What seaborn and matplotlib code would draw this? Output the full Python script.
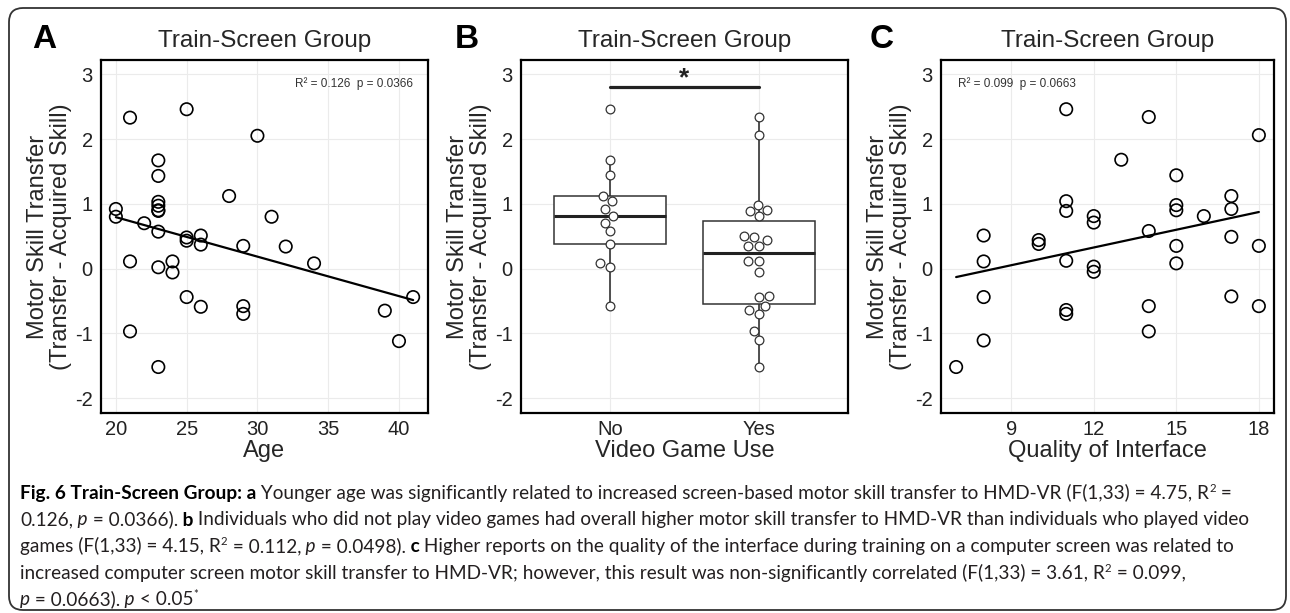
import numpy as np
import pandas as pd
import seaborn as sns
import matplotlib.pyplot as plt
from matplotlib.patches import FancyBboxPatch

# panel A: age vs transfer
age = [20, 20, 21, 21, 21, 22, 23, 23, 23, 23, 23, 23, 23, 23, 23, 24, 24,
       25, 25, 25, 25, 26, 26, 26, 28, 29, 29, 29, 30, 31, 32, 34, 39, 40, 41]
transfer_a = [0.92, 0.80, 2.33, 0.11, -0.97, 0.70, 1.67, 1.43, 1.03, 0.97, 0.89, 0.90,
              0.57, 0.02, -1.52, 0.11, -0.06, 2.46, 0.48, 0.43, -0.44, 0.51, 0.37,
              -0.59, 1.12, 0.35, -0.58, -0.70, 2.05, 0.80, 0.34, 0.08, -0.65, -1.12, -0.44]

# panel B: video game use
transfer_no = [2.46, 1.68, 1.44, 1.12, 1.04, 0.92, 0.81, 0.71, 0.58, 0.38, 0.08, 0.03, -0.58]
transfer_yes = [2.34, 2.06, 0.98, 0.90, 0.89, 0.81, 0.51, 0.49, 0.44, 0.35, 0.35, 0.12,
                0.11, -0.05, -0.43, -0.44, -0.58, -0.64, -0.70, -0.97, -1.11, -1.52]

# panel C: quality of interface
quality = [7, 8, 8, 8, 8, 10, 10, 11, 11, 11, 11, 11, 11, 12, 12, 12, 12, 13, 14, 14, 14,
           14, 15, 15, 15, 15, 15, 16, 17, 17, 17, 17, 18, 18, 18]
transfer_c = [-1.52, 0.51, 0.11, -0.44, -1.11, 0.44, 0.38, 2.46, 1.04, 0.89, 0.12, -0.64,
              -0.70, 0.81, 0.71, 0.03, -0.05, 1.68, 2.34, 0.58, -0.58, -0.97, 1.44, 0.98,
              0.90, 0.35, 0.08, 0.81, 1.12, 0.92, 0.49, -0.43, 2.06, 0.35, -0.58]

stat_a = 'R² = 0.126  p = 0.0366'
stat_c = 'R² = 0.099  p = 0.0663'

W, H = 1290, 613
sns.set_style('white')
plt.rcParams['font.family'] = ['Liberation Sans', 'DejaVu Sans']
plt.rcParams['axes.unicode_minus'] = False

fig = plt.figure(figsize=(W / 100, H / 100), dpi=100)

# rounded frame around the whole figure
bg = fig.add_axes([0, 0, 1, 1], zorder=-10)
bg.set_xlim(0, W)
bg.set_ylim(H, 0)
bg.axis('off')
bg.add_patch(FancyBboxPatch((9, 8), 1277, 602, boxstyle='round,pad=0,rounding_size=14',
                            fill=False, lw=1.3, ec='#333333'))


def px_axes(left, right, top=60, bottom=413):
    return fig.add_axes([left / W, 1 - bottom / H, (right - left) / W, (bottom - top) / H])


def style(ax, xlabel, width_px):
    ax.set_ylim(-2.23, 3.22)
    ax.set_yticks(range(-2, 4))
    ax.grid(True, color='#EBEBEB', lw=0.8)
    ax.set_axisbelow(True)
    for s in ax.spines.values():
        s.set_linewidth(1.6)
        s.set_color('black')
    ax.tick_params(direction='out', length=3.5, width=0.9, color='#333333',
                   labelsize=14.5, labelcolor='#222222', pad=2.5)
    ax.tick_params(axis='x', pad=1.5)
    ax.set_title('Train-Screen Group', fontsize=17.5, pad=9)
    ax.set_ylabel('Motor Skill Transfer\n(Transfer - Acquired Skill)', fontsize=17,
                  linespacing=1.05)
    ax.yaxis.set_label_coords(-29 / width_px, 0.5)
    ax.set_xlabel(xlabel, fontsize=17)
    ax.xaxis.set_label_coords(0.5, -27 / 353)


# A
axA = px_axes(101, 428)
dfa = pd.DataFrame({'age': age, 'transfer': transfer_a})
sns.regplot(data=dfa, x='age', y='transfer', ax=axA, scatter=False, ci=None,
            line_kws=dict(color='black', lw=1.6))
sns.scatterplot(data=dfa, x='age', y='transfer', ax=axA, s=80, facecolor='none',
                edgecolor='black', linewidth=1.2, zorder=3)
axA.set_xlim(18.95, 42.05)
axA.set_xticks([20, 25, 30, 35, 40])
style(axA, 'Age', 327)
axA.text(0.954, 0.932, stat_a, transform=axA.transAxes, ha='right', va='center',
         fontsize=8.5, color='#333333')

# B
axB = px_axes(521, 848)
dfb = pd.DataFrame({'vg': ['No'] * len(transfer_no) + ['Yes'] * len(transfer_yes),
                    'transfer': transfer_no + transfer_yes})
sns.boxplot(data=dfb, x='vg', y='transfer', order=['No', 'Yes'], ax=axB, color='white',
            linecolor='#333333', linewidth=1.1, width=0.75, showfliers=False, showcaps=False,
            medianprops=dict(linewidth=2.2, color='#222222'), whiskerprops=dict(linewidth=1.2))
sns.swarmplot(data=dfb, x='vg', y='transfer', order=['No', 'Yes'], ax=axB, color='white',
              edgecolor='#333333', linewidth=0.9, size=6.3, zorder=3)
axB.set_xlim(-0.6, 1.6)
style(axB, 'Video Game Use', 327)
axB.plot([0, 1], [2.8, 2.8], color='#222222', lw=2.3)
axB.text(0.5, 2.93, '*', ha='center', va='center', fontsize=19, fontweight='bold',
         color='#222222')

# C
axC = px_axes(941, 1274)
dfc = pd.DataFrame({'quality': quality, 'transfer': transfer_c})
sns.regplot(data=dfc, x='quality', y='transfer', ax=axC, scatter=False, ci=None,
            line_kws=dict(color='black', lw=1.6))
sns.scatterplot(data=dfc, x='quality', y='transfer', ax=axC, s=80, facecolor='none',
                edgecolor='black', linewidth=1.2, zorder=3)
axC.set_xlim(6.45, 18.55)
axC.set_xticks([9, 12, 15, 18])
style(axC, 'Quality of Interface', 333)
axC.text(0.051, 0.932, stat_c, transform=axC.transAxes, ha='left', va='center',
         fontsize=8.5, color='#333333')

# panel letters
for lx, letter in [(32, 'A'), (455, 'B'), (870, 'C')]:
    fig.text(lx / W, 1 - 40 / H, letter, fontsize=24, fontweight='bold', va='center',
             ha='left', color='black')

# caption, drawn piece by piece so bold / italic / superscript can mix
cap_font = ['Lato', 'DejaVu Sans']
renderer = fig.canvas.get_renderer()

probe = fig.text(0, 0, '0.126, p = 0.0366). b Individuals who did not play video games had '
                 'overall higher motor skill transfer to HMD-VR than individuals who played video',
                 fontsize=12, family=cap_font)
cap_fs = 12 * 1227 / probe.get_window_extent(renderer).width
probe.remove()

caption = [
    [('Fig. 6 Train-Screen Group:', 'b'), (' a', 'b'),
     (' Younger age was significantly related to increased screen-based motor skill '
      'transfer to HMD-VR (F(1,33) = 4.75, R', 'n'), ('2', 's'), (' =', 'n')],
    [('0.126,', 'n'), (' p', 'i'), (' = 0.0366).', 'n'), (' b', 'b'),
     (' Individuals who did not play video games had overall higher motor skill transfer '
      'to HMD-VR than individuals who played video', 'n')],
    [('games (F(1,33) = 4.15, R', 'n'), ('2', 's'), (' = 0.112,', 'n'), (' p', 'i'),
     (' = 0.0498).', 'n'), (' c', 'b'),
     (' Higher reports on the quality of the interface during training on a computer '
      'screen was related to', 'n')],
    [('increased computer screen motor skill transfer to HMD-VR; however, this result was '
      'non-significantly correlated (F(1,33) = 3.61, R', 'n'), ('2', 's'), (' = 0.099,', 'n')],
    [('p', 'i'), (' = 0.0663).', 'n'), (' p', 'i'), (' < 0.05', 'n'), ('*', 's')],
]

for i, line in enumerate(caption):
    base = 499 + i * 26.5
    x = 20
    for txt, st in line:
        kw = dict(fontsize=cap_fs, color='#231f20')
        y = base
        if st == 'b':
            kw.update(fontweight='bold', color='black')
        elif st == 'i':
            kw.update(fontstyle='italic')
        elif st == 's':
            kw.update(fontsize=cap_fs * 0.6)
            y = base - 7
        t = fig.text(x / W, 1 - y / H, txt, family=cap_font, va='baseline', ha='left', **kw)
        x += t.get_window_extent(renderer).width

fig.savefig('out.png', dpi=100)
